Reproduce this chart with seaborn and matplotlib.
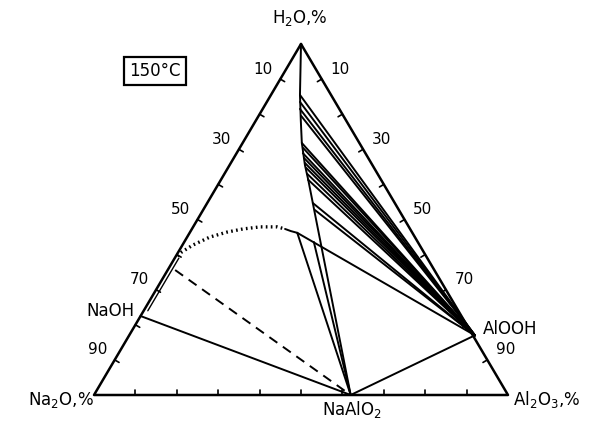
import matplotlib
matplotlib.use("Agg")
import matplotlib.pyplot as plt
import seaborn as sns
import pandas as pd

# all compositions in wt %; Na2O is the remainder (100 - H2O - Al2O3)
edge_ticks = [10, 20, 30, 40, 50, 60, 70, 80, 90]
edge_labels = [10, 30, 50, 70, 90]

# solid phases (H2O %, Al2O3 %)
naoh = (22.5, 0.0)
naalo2 = (0.0, 62.0)
alooh = (17.0, 83.5)

# liquid branch saturated with AlOOH, starting at pure water
liq_h2o = [100, 85.5, 78.3, 71.8, 65.5, 61.3]
liq_al2o3 = [0, 7.0, 10.8, 14.3, 18.2, 21.1]

# liquid ends of the AlOOH tie lines
tie_h2o = [85.5, 83.5, 81.5, 79.5, 71.8, 70.4, 68.9, 67.5, 66.1, 64.7, 63.0, 61.3, 54.7, 52.7, 46.2]
tie_al2o3 = [7.0, 8.0, 9.0, 10.3, 14.3, 15.3, 16.0, 17.0, 17.9, 18.9, 20.0, 21.1, 25.5, 27.0, 26.0]

# liquid ends of the NaAlO2 tie lines
sa_h2o = [46.2, 43.6, 61.3]
sa_al2o3 = [26.0, 31.3, 21.1]

# dotted boundary towards the NaOH side, then its solid end
dot_h2o = [39.6, 40.7, 42.7, 45.0, 46.4, 47.3, 47.9, 47.9, 47.3]
dot_al2o3 = [0.3, 0.8, 2.5, 5.5, 8.9, 12.3, 16.2, 20.3, 22.5]
end_h2o = [47.3, 46.7, 46.2]
end_al2o3 = [22.5, 24.2, 26.0]

# dashed line start and the short branch along the NaOH edge
dash_start = (35.6, 1.8)
edge_h2o = [24.0, 39.0]
edge_al2o3 = [1.0, 1.0]

SX, SY = 414.0, 351.0  # pixel size of one unit along x / y


def xy(h2o, al2o3):
    w = h2o / 100.0
    return al2o3 / 100.0 + w / 2.0, w


def pix(px, py):
    return (px - 94) / SX, (395 - py) / SY


sns.set_style("white")
plt.rcParams["font.family"] = ["DejaVu Sans"]
plt.rcParams["mathtext.default"] = "regular"
plt.rcParams["text.color"] = "black"

fig = plt.figure(figsize=(6.04, 4.28), dpi=100)
ax = fig.add_axes([0, 0, 1, 1])
ax.set_xlim(-94 / SX, 510 / SX)
ax.set_ylim(-33 / SY, 395 / SY)
ax.axis("off")

rows = []
seg = 0


def add(h_list, a_list, kind):
    global seg
    for h, a in zip(h_list, a_list):
        x, y = xy(h, a)
        rows.append({"x": x, "y": y, "seg": seg, "kind": kind})
    seg += 1


# triangle frame
add([100, 0, 0, 100], [0, 0, 100, 0], "frame")
add(liq_h2o, liq_al2o3, "line")
for h, a in zip(tie_h2o, tie_al2o3):
    add([h, alooh[0]], [a, alooh[1]], "line")
for h, a in zip(sa_h2o, sa_al2o3):
    add([h, naalo2[0]], [a, naalo2[1]], "line")
add([naoh[0], naalo2[0]], [naoh[1], naalo2[1]], "line")
add([alooh[0], naalo2[0]], [alooh[1], naalo2[1]], "line")
add(end_h2o, end_al2o3, "line")
add(edge_h2o, edge_al2o3, "thin")
add([dash_start[0], naalo2[0]], [dash_start[1], naalo2[1]], "dash")
add(dot_h2o, dot_al2o3, "dot")

df = pd.DataFrame(rows)

styles = {
    "frame": dict(lw=1.8, linestyle="-"),
    "line": dict(lw=1.4, linestyle="-"),
    "thin": dict(lw=1.0, linestyle="-"),
    "dash": dict(lw=1.4, linestyle=(0, (5, 3.5))),
    "dot": dict(lw=2.4, linestyle=(0, (0.5, 1.0))),
}
for kind, st in styles.items():
    sub = df[df["kind"] == kind]
    sns.lineplot(data=sub, x="x", y="y", units="seg", estimator=None, sort=False,
                 color="black", ax=ax, legend=False, **st)

# inward tick marks, 5 px long
tick_len = 5
left_n = (351 / 406.5, 205 / 406.5)
right_n = (-351 / 408.5, 209 / 408.5)
for t in edge_ticks:
    # left edge (Na2O %)
    x0, y0 = xy(100 - t, 0)
    ax.plot([x0, x0 + tick_len * left_n[0] / SX], [y0, y0 - tick_len * left_n[1] / SY],
            color="black", lw=1.2)
    # right edge (Al2O3 %)
    x0, y0 = xy(100 - t, t)
    ax.plot([x0, x0 + tick_len * right_n[0] / SX], [y0, y0 - tick_len * right_n[1] / SY],
            color="black", lw=1.2)
    # bottom edge
    x0, y0 = xy(0, t)
    ax.plot([x0, x0], [y0, y0 + tick_len / SY], color="black", lw=1.2)

for t in edge_labels:
    x0, y0 = xy(100 - t, 0)
    ax.text(x0 - 17 / SX, y0 + 10 / SY, str(t), ha="center", va="center", fontsize=11)
    x0, y0 = xy(100 - t, t)
    ax.text(x0 + 18 / SX, y0 + 10 / SY, str(t), ha="center", va="center", fontsize=11)

ax.text(*pix(300, 18), "H$_2$O,%", ha="center", va="center", fontsize=12)
ax.text(*pix(94, 400), "Na$_2$O,%", ha="right", va="center", fontsize=12)
ax.text(*pix(513, 400), "Al$_2$O$_3$,%", ha="left", va="center", fontsize=12)
ax.text(*pix(352, 410), "NaAlO$_2$", ha="center", va="center", fontsize=12)
ax.text(*pix(134, 311), "NaOH", ha="right", va="center", fontsize=12)
ax.text(*pix(483, 329), "AlOOH", ha="left", va="center", fontsize=12)
ax.text(*pix(155, 71), "150°C", ha="center", va="center", fontsize=12,
        bbox=dict(boxstyle="square,pad=0.3", fc="white", ec="black", lw=1.6))

fig.savefig("out.png", dpi=100)
